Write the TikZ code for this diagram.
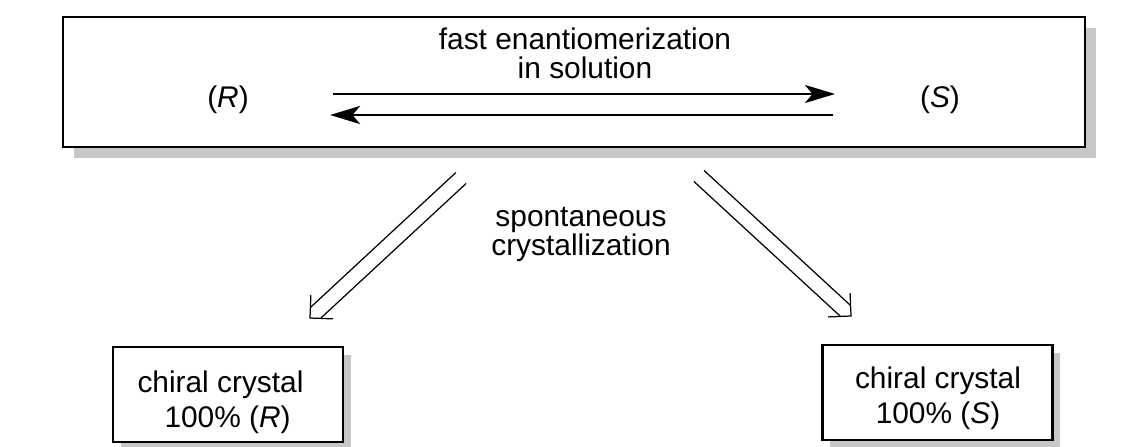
\documentclass[tikz,border=0pt]{standalone}
\usepackage{fontspec}
\setmainfont{Liberation Sans}
\usetikzlibrary{arrows.meta,shadows,calc}

\tikzset{
    txt/.style={font=\fontsize{17}{16.5}\selectfont, inner sep=0pt, align=center},
    boxtxt/.style={font=\fontsize{17}{20}\selectfont, inner sep=0pt},
    bigbox/.style={draw, line width=1.3pt, fill=white, minimum width=20.44cm, minimum height=2.6cm,
        drop shadow={opacity=1, fill=black!22, shadow xshift=0.22cm, shadow yshift=-0.22cm}},
    crystal/.style={draw, line width=1.3pt, fill=white, minimum width=4.6cm, minimum height=1.9cm,
        drop shadow={opacity=1, fill=black!22, shadow xshift=0.15cm, shadow yshift=-0.15cm}},
    eq/.style={line width=1.7pt, -{Stealth[length=0.6cm, width=0.36cm, inset=0.15cm]}},
    hollow/.style={line width=0.7pt}
}

\begin{document}
\begin{tikzpicture}
            \useasboundingbox (0, 0) rectangle (22.76, 8.92);

            % solution box
            \node[bigbox] (sol) at (11.48, 7.28) {};
            \node[txt] (fast) at (11.70, 7.86) {fast enantiomerization\\in solution};
            \node[txt] (R) at (4.56, 6.92) {(\textit{R})};
            \node[txt] (S) at (18.80, 6.92) {(\textit{S})};

            \coordinate (fwdA) at (6.66, 7.04);
            \coordinate (fwdB) at (16.70, 7.04);
            \coordinate (revA) at (16.66, 6.62);
            \coordinate (revB) at (6.60, 6.62);
            \draw[eq] (fwdA) -- (fwdB);
            \draw[eq] (revA) -- (revB);

            % crystals
            \node[crystal] (crR) at (4.56, 1.03) {};
            \node[boxtxt, align=left] (crRtxt) at (4.41, 0.87) {chiral crystal\\\hspace*{0.54cm}100\% (\textit{R})};
            \node[crystal] (crS) at (18.75, 1.07) {};
            \node[boxtxt, align=center] (crStxt) at (18.76, 0.95) {chiral crystal\\100\% (\textit{S})};

            % hollow arrows
            \coordinate (tailR) at (9.22, 5.36);
            \coordinate (headR) at (6.20, 2.56);
            \coordinate (tailS) at (13.98, 5.40);
            \coordinate (headS) at (17.02, 2.60);
            \foreach \t/\h in {tailR/headR, tailS/headS} {
                \draw[hollow] ($(\t)!0.15cm!-90:(\h)$) -- ($(\h)!0.21cm!45:(\t)$);
                \draw[hollow] ($(\t)!0.15cm!90:(\h)$) -- ($(\h)!0.21cm!-45:(\t)$);
                \draw[hollow] ($(\h)!0.46cm!45:(\t)$) -- (\h) -- ($(\h)!0.46cm!-45:(\t)$);
            }
            \node[txt] (spont) at (11.62, 4.23) {spontaneous\\crystallization};
        \end{tikzpicture}
\end{document}
